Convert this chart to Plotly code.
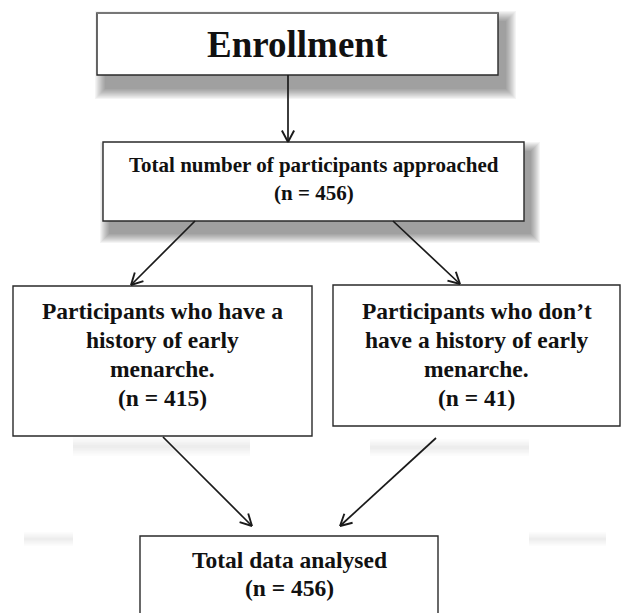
import math
import plotly.graph_objects as go

# ---- data ----
stage_names = ["enroll", "approached", "early", "not_early", "analysed"]
stage_lines = [
    ["Enrollment"],
    ["Total number of participants approached"],
    ["Participants who have a", "history of early", "menarche."],
    ["Participants who don’t", "have a history of early", "menarche."],
    ["Total data analysed"],
]
stage_counts = [None, 456, 415, 41, 456]
flow_edges = [("enroll", "approached"), ("approached", "early"), ("approached", "not_early"),
              ("early", "analysed"), ("not_early", "analysed")]

# ---- layout geometry (pixels) ----
W, H = 621, 613
boxes = {
    "enroll": dict(x0=97, y0=13, x1=498, y1=75, fs=37, ty=44, pitch=0),
    "approached": dict(x0=103, y0=142, x1=524, y1=221, fs=21, ty=165, pitch=28),
    "early": dict(x0=13, y0=286, x1=312, y1=436, fs=23.5, ty=311, pitch=29),
    "not_early": dict(x0=333, y0=285, x1=620, y1=426, fs=23.5, ty=311, pitch=29),
    "analysed": dict(x0=140, y0=536, x1=438, y1=660, fs=23.5, ty=560, pitch=28),
}
edge_geom = {
    ("enroll", "approached"): ((288, 75), (288, 142)),
    ("approached", "early"): ((195, 221), (131, 285)),
    ("approached", "not_early"): ((393, 221), (460, 284)),
    ("early", "analysed"): ((163, 437), (252, 526)),
    ("not_early", "analysed"): ((436, 438), (340, 526)),
}

FONT = "Liberation Serif, Times New Roman, serif"
shapes = []
annotations = []


def blur_shadow(x0, y0, x1, y1, blur, steps=10, alpha=0.035):
    for i in range(steps):
        e = blur * (1 - i / steps)
        shapes.append(dict(type="rect", xref="x", yref="y", layer="below",
                           x0=x0 - e, y0=y0 - e, x1=x1 + e, y1=y1 + e,
                           line=dict(width=0), fillcolor=f"rgba(0,0,0,{alpha})"))


def band(x0, y0, x1, y1, steps=6, alpha=0.01):
    h = (y1 - y0)
    for i in range(steps):
        d = h * i / (2 * steps)
        shapes.append(dict(type="rect", xref="x", yref="y", layer="below",
                           x0=x0, y0=y0 + d, x1=x1, y1=y1 - d,
                           line=dict(width=0), fillcolor=f"rgba(0,0,0,{alpha})"))


# drop shadows
blur_shadow(106, 22, 505, 88, 11, alpha=0.045)
blur_shadow(110, 152, 530, 233, 10, alpha=0.045)
band(73, 437, 250, 456)
band(370, 439, 529, 456)
band(24, 532, 73, 546)
band(529, 532, 606, 546)

# boxes + text
for name, lines, n in zip(stage_names, stage_lines, stage_counts):
    b = boxes[name]
    shapes.append(dict(type="rect", xref="x", yref="y", layer="above",
                       x0=b["x0"], y0=b["y0"], x1=b["x1"], y1=b["y1"],
                       line=dict(color="#2a2a2a", width=1.4), fillcolor="white"))
    txt_lines = list(lines)
    if n is not None:
        txt_lines.append(f"(n = {n})")
    cx = (b["x0"] + min(b["x1"], W)) / 2
    for i, t in enumerate(txt_lines):
        annotations.append(dict(x=cx, y=b["ty"] + i * b["pitch"], xref="x", yref="y",
                                text=t, showarrow=False,
                                xanchor="center", yanchor="middle", align="center",
                                font=dict(family=FONT, size=b["fs"], color="#111111", weight="bold")))

e = boxes["enroll"]
shapes.append(dict(type="line", xref="x", yref="y", x0=e["x0"], x1=e["x1"], y0=e["y0"], y1=e["y0"],
                   line=dict(color="#777777", width=2.2)))

# arrows
for edge in flow_edges:
    (sx, sy), (tx, ty) = edge_geom[edge]
    shapes.append(dict(type="line", xref="x", yref="y", x0=sx, y0=sy, x1=tx, y1=ty,
                       line=dict(color="#1a1a1a", width=1.7)))
    ang = math.atan2(ty - sy, tx - sx)
    L = 13
    for da in (math.radians(28), -math.radians(28)):
        a = ang + math.pi + da
        shapes.append(dict(type="line", xref="x", yref="y", x0=tx, y0=ty,
                           x1=tx + L * math.cos(a), y1=ty + L * math.sin(a),
                           line=dict(color="#1a1a1a", width=1.9)))

fig = go.Figure()
fig.update_layout(
    width=W, height=H,
    margin=dict(l=0, r=0, t=0, b=0),
    paper_bgcolor="white", plot_bgcolor="white",
    xaxis=dict(range=[0, W], visible=False, fixedrange=True),
    yaxis=dict(range=[H, 0], visible=False, fixedrange=True),
    shapes=shapes, annotations=annotations, showlegend=False,
)
fig.write_html("out.html", config=dict(displayModeBar=False),
               post_script="document.body.style.margin='0';document.body.style.overflow='hidden';")
